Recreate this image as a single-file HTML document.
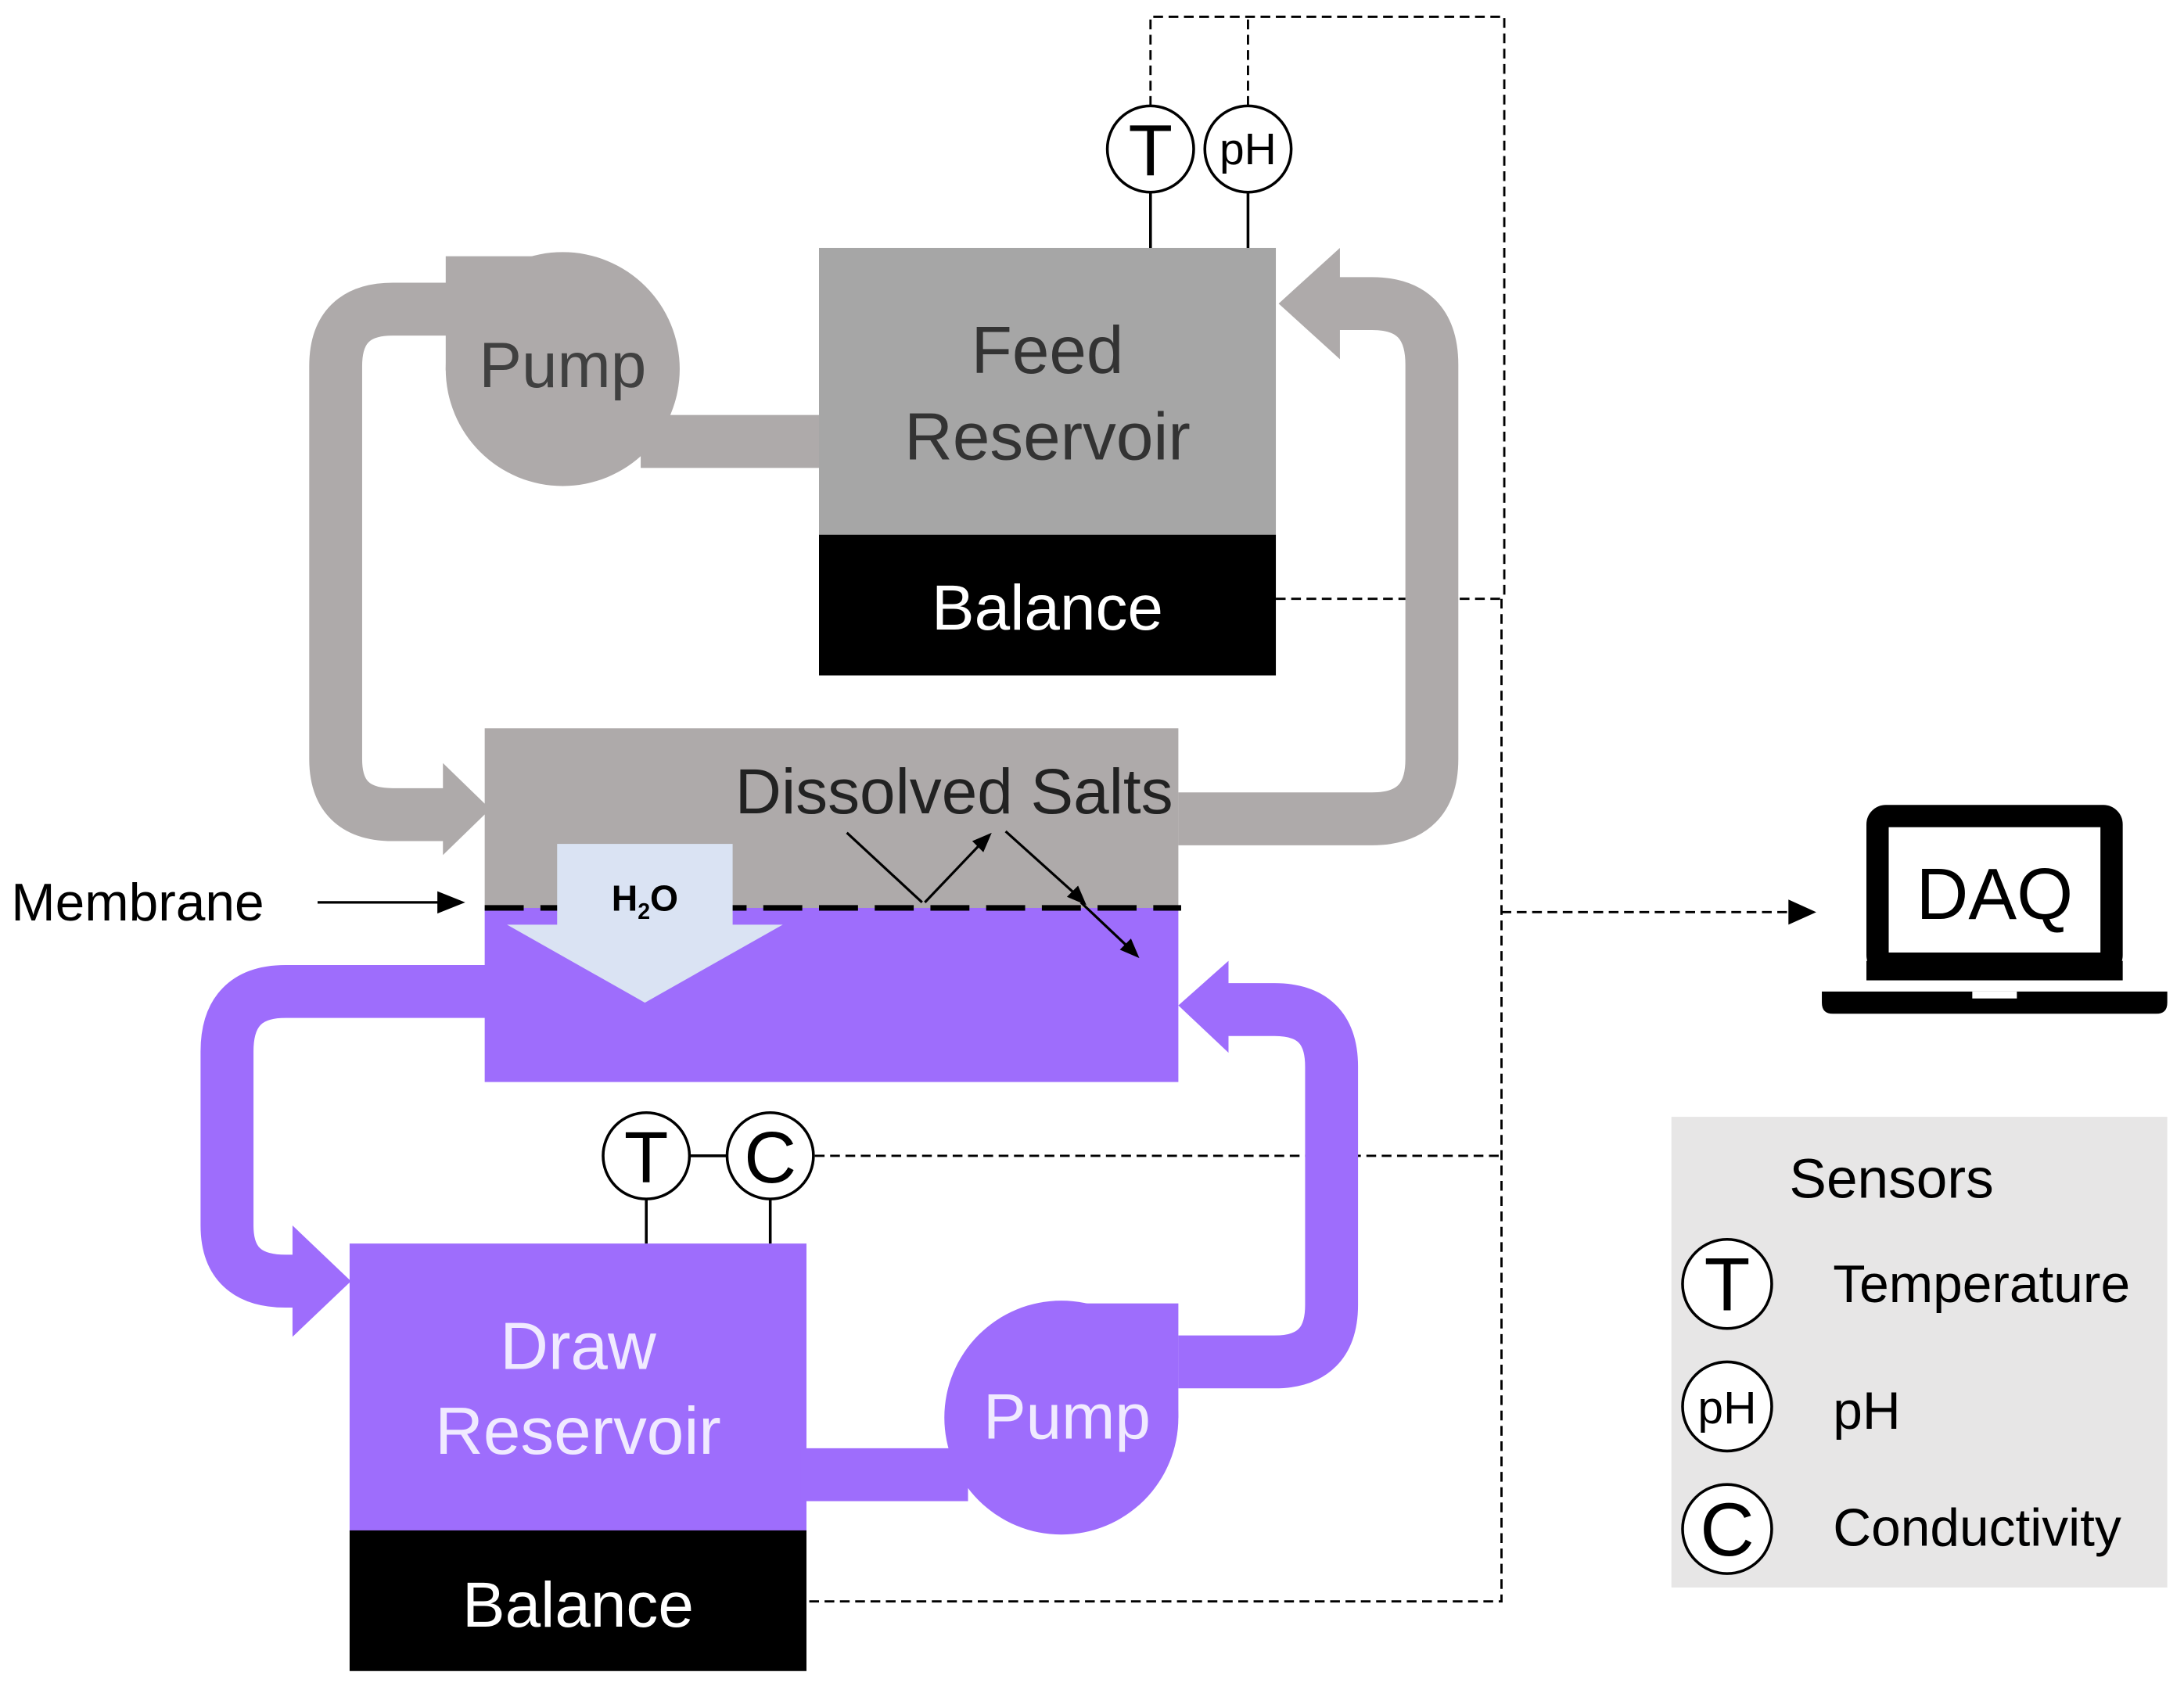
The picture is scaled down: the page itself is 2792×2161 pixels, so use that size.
<!DOCTYPE html>
<html><head><meta charset="utf-8"><style>html,body{margin:0;padding:0;background:#fff}svg{display:block}</style></head><body>
<svg width="2792" height="2161" viewBox="0 0 1568 1213.6" xmlns="http://www.w3.org/2000/svg" font-family="Liberation Sans, sans-serif">
<rect width="1568" height="1214" fill="#fff"/>
<g stroke="#000" stroke-width="1.6" stroke-dasharray="7,4" fill="none">
<path d="M826,76 V12 H1080 V430"/>
<path d="M896,76 V12"/>
<path d="M916,430 H1080"/>
<path d="M1078,430 V1150 H579"/>
<path d="M1078,655 H1290"/>
<path d="M585,830 H1078"/>
</g>
<polygon points="1304,655 1284,646 1284,664" fill="#000"/>
<g stroke="#aeaaaa" stroke-width="38" fill="none">
<path d="M330,222 H282 Q241,222 241,263 V545 Q241,585 282,585 H322"/>
<path d="M846,588 H985 Q1028,588 1028,545 V262 Q1028,218 985,218 H955"/>
</g>
<polygon points="318,548 318,614 352,581" fill="#aeaaaa"/>
<polygon points="962,178 962,258 918,218" fill="#aeaaaa"/>
<circle cx="404" cy="265" r="84" fill="#aeaaaa"/>
<rect x="320" y="184" width="84" height="82" fill="#aeaaaa"/>
<rect x="460" y="298" width="130" height="38" fill="#aeaaaa"/>
<text x="404" y="278" font-size="46" fill="#404040" text-anchor="middle">Pump</text>
<rect x="588" y="178" width="328" height="207" fill="#a6a6a6"/>
<text x="752" y="268" font-size="48" fill="#333" text-anchor="middle">Feed</text>
<text x="752" y="330" font-size="48" fill="#333" text-anchor="middle">Reservoir</text>
<rect x="588" y="384" width="328" height="101" fill="#000"/>
<text x="752" y="452" font-size="46" fill="#fff" text-anchor="middle">Balance</text>
<g stroke="#9e6dfc" stroke-width="38" fill="none">
<path d="M350,712 H205 Q163,712 163,755 V880 Q163,920 205,920 H218"/>
<path d="M846,978 H915 Q956,978 956,937 V766 Q956,725 915,725 H880"/>
</g>
<polygon points="210,880 210,960 252,920" fill="#9e6dfc"/>
<polygon points="882,690 882,756 846,722" fill="#9e6dfc"/>
<rect x="348" y="523" width="498" height="130" fill="#aeaaaa"/>
<rect x="348" y="652" width="498" height="125" fill="#9e6dfc"/>
<line x1="348" y1="652" x2="848" y2="652" stroke="#000" stroke-width="4" stroke-dasharray="28,12"/>
<text x="685" y="584" font-size="46" fill="#222" text-anchor="middle">Dissolved Salts</text>
<rect x="400" y="606" width="126" height="60" fill="#dae3f3"/>
<polygon points="364,664 562,664 463,720" fill="#dae3f3"/>
<text x="463" y="654" font-size="26" font-weight="bold" fill="#000" text-anchor="middle">H<tspan font-size="16" dy="6">2</tspan><tspan dy="-6">O</tspan></text>
<g stroke="#000" stroke-width="1.8">
<line x1="608" y1="598" x2="662" y2="648"/>
<line x1="664" y1="648" x2="704" y2="606"/>
<line x1="722" y1="597" x2="772" y2="642"/>
<line x1="776" y1="648" x2="812" y2="682"/>
</g>
<polygon points="712,598 698,604 706,612" fill="#000"/>
<polygon points="780,650 766,644 774,636" fill="#000"/>
<polygon points="818,688 804,682 812,674" fill="#000"/>
<text x="8" y="661" font-size="38" fill="#000">Membrane</text>
<line x1="228" y1="648" x2="320" y2="648" stroke="#000" stroke-width="1.8"/>
<polygon points="334,648 314,640 314,656" fill="#000"/>
<rect x="251" y="893" width="328" height="207" fill="#9e6dfc"/>
<text x="415" y="983" font-size="48" fill="#f0eaff" text-anchor="middle">Draw</text>
<text x="415" y="1044" font-size="48" fill="#f0eaff" text-anchor="middle">Reservoir</text>
<rect x="251" y="1099" width="328" height="101" fill="#000"/>
<text x="415" y="1168" font-size="46" fill="#fff" text-anchor="middle">Balance</text>
<circle cx="762" cy="1018" r="84" fill="#9e6dfc"/>
<rect x="762" y="936" width="84" height="82" fill="#9e6dfc"/>
<rect x="575" y="1040" width="120" height="38" fill="#9e6dfc"/>
<text x="766" y="1033" font-size="46" fill="#f0eaff" text-anchor="middle">Pump</text>
<g stroke="#000" stroke-width="2" fill="#fff">
<line x1="826" y1="138" x2="826" y2="178"/>
<line x1="896" y1="138" x2="896" y2="178"/>
<line x1="464" y1="861" x2="464" y2="893"/>
<line x1="553" y1="861" x2="553" y2="893"/>
<line x1="495" y1="830" x2="522" y2="830"/>
<circle cx="826" cy="107" r="31"/>
<circle cx="896" cy="107" r="31"/>
<circle cx="464" cy="830" r="31"/>
<circle cx="553" cy="830" r="31"/>
</g>
<text x="826" y="126" font-size="52" text-anchor="middle">T</text>
<text x="896" y="118" font-size="32" text-anchor="middle">pH</text>
<text x="464" y="849" font-size="52" text-anchor="middle">T</text>
<text x="553" y="849" font-size="52" text-anchor="middle">C</text>
<rect x="1348" y="586" width="168" height="106" rx="6" fill="#fff" stroke="#000" stroke-width="16"/>
<rect x="1340" y="690" width="184" height="14" fill="#000"/>
<path d="M1308,712 H1556 V720 Q1556,728 1548,728 H1316 Q1308,728 1308,720 Z" fill="#000"/>
<rect x="1416" y="712" width="32" height="5" fill="#fff"/>
<text x="1432" y="660" font-size="52" text-anchor="middle">DAQ</text>
<rect x="1200" y="802" width="356" height="338" fill="#e7e6e6"/>
<text x="1358" y="860" font-size="40" text-anchor="middle">Sensors</text>
<g stroke="#000" stroke-width="2" fill="#fff">
<circle cx="1240" cy="922" r="32"/>
<circle cx="1240" cy="1010" r="32"/>
<circle cx="1240" cy="1098" r="32"/>
</g>
<text x="1240" y="941" font-size="54" text-anchor="middle">T</text>
<text x="1240" y="1022" font-size="33" text-anchor="middle">pH</text>
<text x="1240" y="1117" font-size="54" text-anchor="middle">C</text>
<text x="1316" y="935" font-size="38">Temperature</text>
<text x="1316" y="1026" font-size="38">pH</text>
<text x="1316" y="1110" font-size="38">Conductivity</text>
</svg>
</body></html>
